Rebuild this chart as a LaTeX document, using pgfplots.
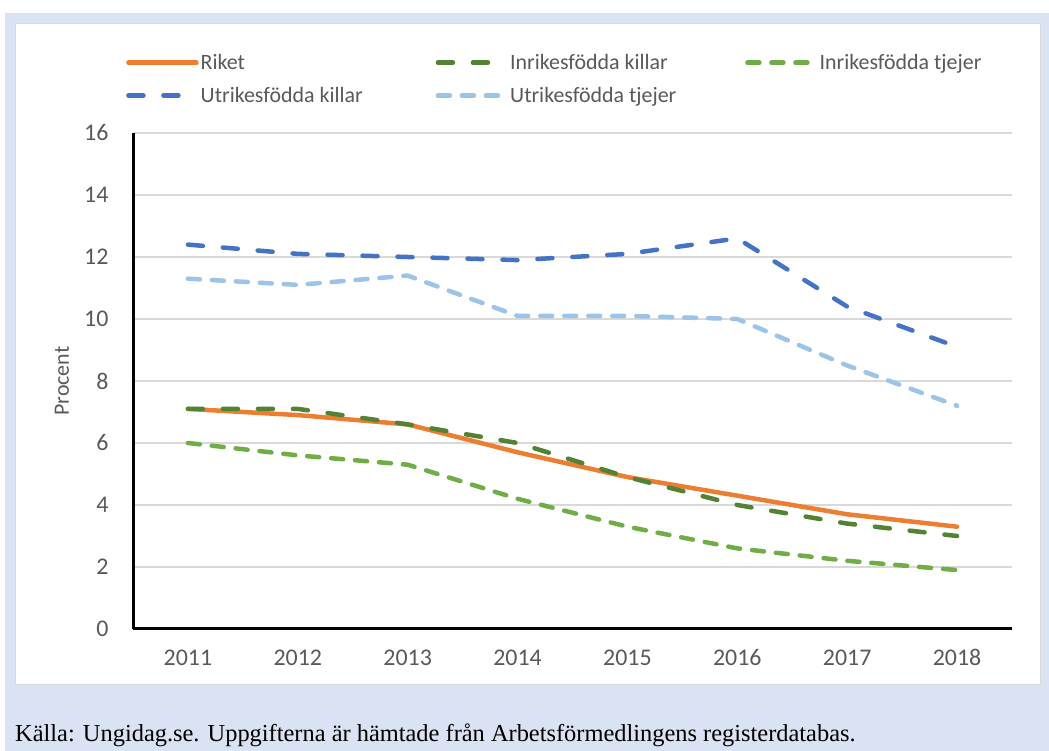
\documentclass[border=0pt]{standalone}
\usepackage{fontspec}
\setmainfont{Carlito}
\newfontfamily\srcfont{Liberation Serif}
\usepackage{pgfplots}
\pgfplotsset{compat=1.18}
\definecolor{panel}{HTML}{DAE3F3}
\definecolor{gridgray}{HTML}{D9D9D9}
\definecolor{tickgray}{HTML}{595959}
\definecolor{cOrange}{HTML}{ED7D31}
\definecolor{cDGreen}{HTML}{548235}
\definecolor{cGreen}{HTML}{70AD47}
\definecolor{cBlue}{HTML}{4472C4}
\definecolor{cLBlue}{HTML}{9DC3E6}
\begin{document}
\begin{tikzpicture}[x=1bp,y=1bp]
\useasboundingbox (0,0) rectangle (1049,751);
\fill[white] (0,0) rectangle (1049,751);
\fill[panel] (5,0) rectangle (1049,738);
\filldraw[fill=white, draw=gridgray, line width=1bp] (15,66) rectangle (1040,727);
\node[anchor=base west, font=\srcfont\fontsize{24.5}{28}\selectfont, inner sep=0pt] at (15,9) {Källa: Ungidag.se. Uppgifterna är hämtade från Arbetsförmedlingens registerdatabas.};
\begin{axis}[
  at={(133bp,122bp)}, anchor=south west,
  scale only axis, width=879bp, height=496bp,
  xmin=-0.5, xmax=7.5, ymin=0, ymax=16,
  xtick={0,...,7},
  xticklabels={2011,2012,2013,2014,2015,2016,2017,2018},
  ytick={0,2,...,16},
  ymajorgrids,
  grid style={color=gridgray, line width=1.3bp},
  axis x line*=bottom, axis y line*=left,
  axis line style={black, line width=3bp, -},
  major tick length=0pt,
  tick label style={font=\fontsize{24}{28}\selectfont, text=tickgray},
  xticklabel style={yshift=-17bp},
  yticklabel style={xshift=-21bp},
  /pgf/number format/assume math mode=true,
  ylabel={Procent},
  every axis y label/.style={at={(axis description cs:-0.0808,0.5)}, rotate=90, anchor=center, font=\fontsize{22}{26}\selectfont, text=tickgray},
  every axis plot/.append style={line width=4.5bp, line cap=round, line join=round, no marks},
  legend columns=3,
  legend style={draw=none, fill=none, at={(axis description cs:0,1)}, anchor=south west, xshift=-7bp, yshift=27bp,
    font=\fontsize{22}{26}\selectfont, text=tickgray, row sep=12bp, inner sep=0pt,
    /tikz/every even column/.append style={column sep=9bp}},
  legend cell align=left,
  legend image code/.code={\draw[#1] (0bp,0bp) -- (68bp,0bp);},
]
\addplot[cOrange] coordinates {(0,7.1) (1,6.9) (2,6.6) (3,5.7) (4,4.9) (5,4.3) (6,3.7) (7,3.3)};
\addlegendentry{\makebox[224bp][l]{Riket}}
\addplot[cDGreen, dash pattern=on 15bp off 20bp] coordinates {(0,7.1) (1,7.1) (2,6.6) (3,6.0) (4,4.9) (5,4.0) (6,3.4) (7,3.0)};
\addlegendentry{\makebox[224bp][l]{Inrikesfödda killar}}
\addplot[cGreen, dash pattern=on 12bp off 12bp] coordinates {(0,6.0) (1,5.6) (2,5.3) (3,4.2) (4,3.3) (5,2.6) (6,2.2) (7,1.9)};
\addlegendentry{\makebox[224bp][l]{Inrikesfödda tjejer}}
\addplot[cBlue, dash pattern=on 15bp off 20bp] coordinates {(0,12.4) (1,12.1) (2,12.0) (3,11.9) (4,12.1) (5,12.6) (6,10.4) (7,9.1)};
\addlegendentry{\makebox[224bp][l]{Utrikesfödda killar}}
\addplot[cLBlue, dash pattern=on 12bp off 12bp] coordinates {(0,11.3) (1,11.1) (2,11.4) (3,10.1) (4,10.1) (5,10.0) (6,8.5) (7,7.2)};
\addlegendentry{\makebox[224bp][l]{Utrikesfödda tjejer}}
\end{axis}
\end{tikzpicture}
\end{document}
